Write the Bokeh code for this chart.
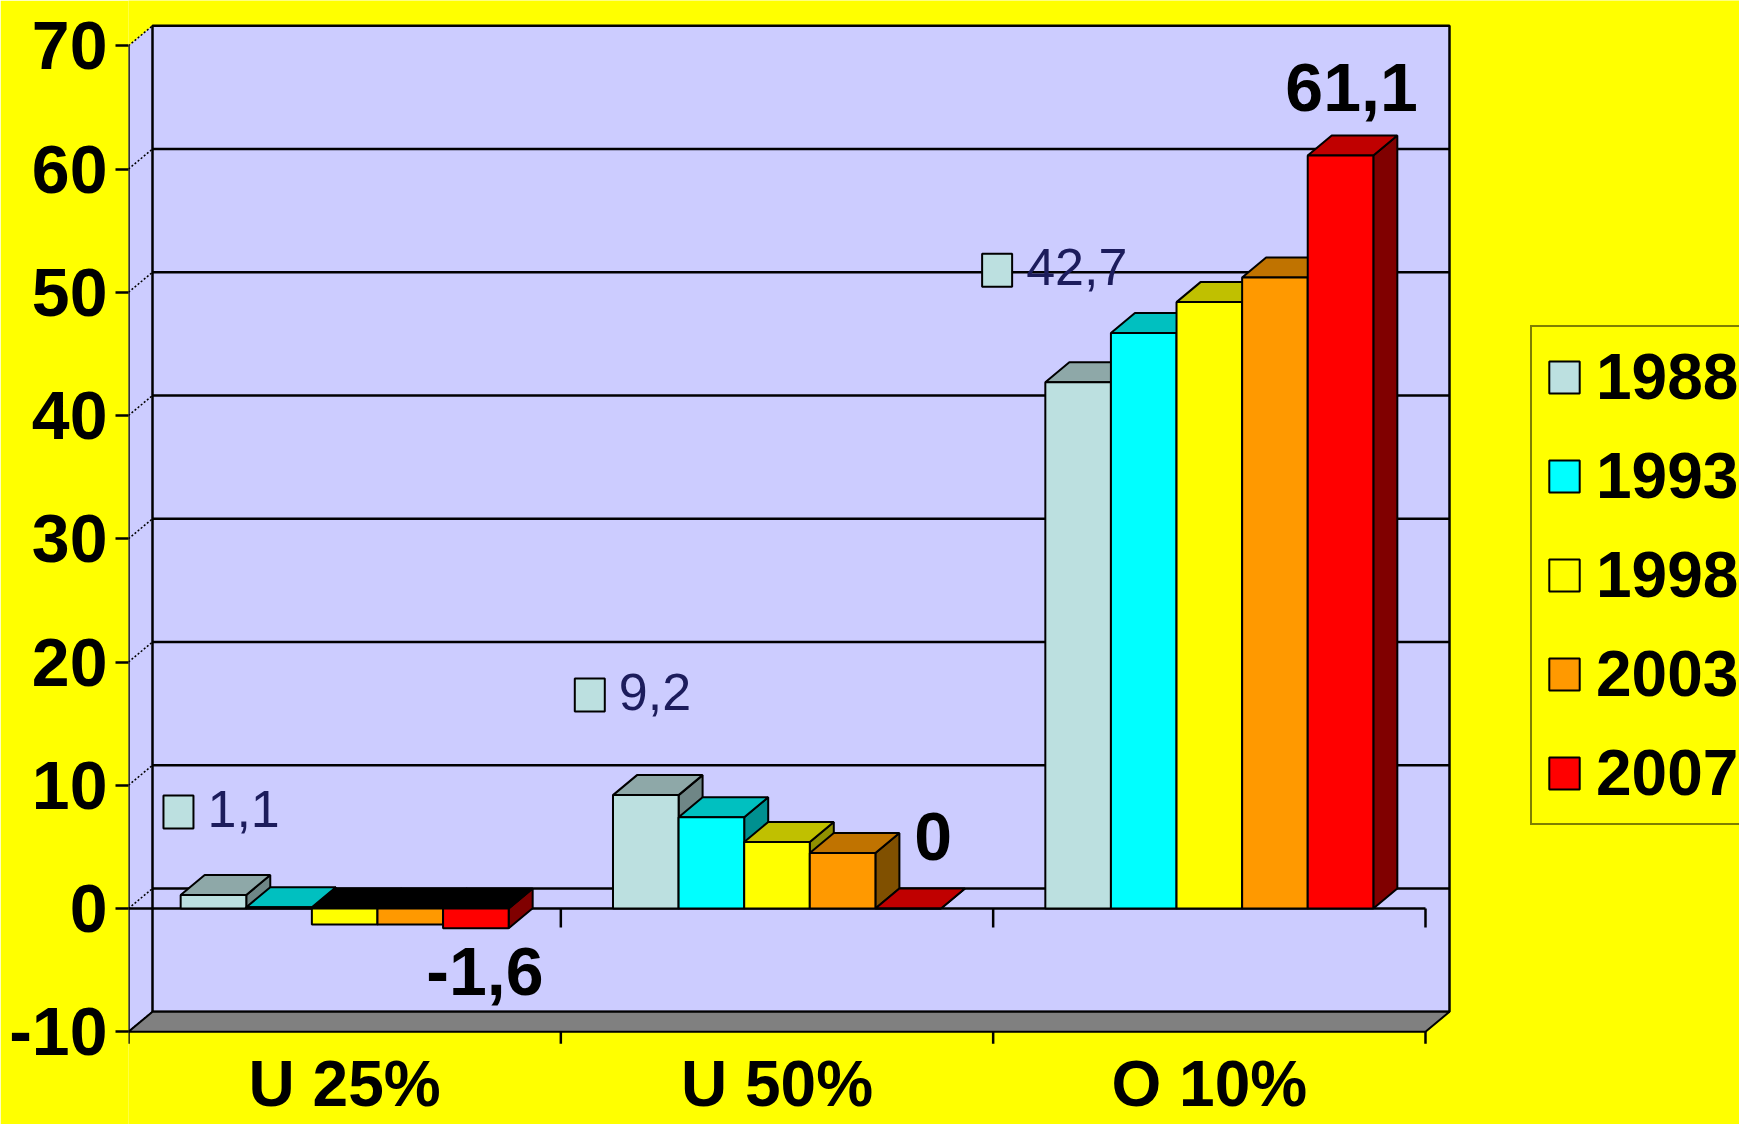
import numpy as np
from bokeh.plotting import figure
from bokeh.models import Range1d, FixedTicker, Legend, LegendItem
from bokeh.core.properties import value
from bokeh.embed import file_html
from bokeh.resources import INLINE

# ---------------- data ----------------
categories = ["U 25%", "U 50%", "O 10%"]
years = ["1988", "1993", "1998", "2003", "2007"]
s1988 = [1.1, 9.2, 42.7]
s1993 = [0.1, 7.4, 46.7]
s1998 = [-1.3, 5.4, 49.2]
s2003 = [-1.3, 4.5, 51.2]
s2007 = [-1.6, 0.0, 61.1]
y_ticks = [-10, 0, 10, 20, 30, 40, 50, 60, 70]
series = [s1988, s1993, s1998, s2003, s2007]

# ---------------- styles ----------------
front_colors = ["#BCE0E0", "#00FFFF", "#FFFF00", "#FF9900", "#FF0000"]
top_colors = ["#8EA8A8", "#00C0C0", "#C0C000", "#C07300", "#C00000"]
side_colors = ["#6F8686", "#009090", "#909000", "#805000", "#800000"]
YELLOW = "#FFFF00"
WALL = "#CCCCFF"
FLOOR = "#808080"
FONT = "Liberation Sans"

W, H = 1739, 1124
PX_U = 432.33             # px per category
PX_V = 12.325             # px per value unit
X0, Y0 = 128, 908         # pixel position of (0, 0) on the front plane
LEFT = X0
BASE_SHIFT = 0.38         # rendered baseline lies this many em below the anchor

DX = 24 / PX_U
DY = 20 / PX_V
BAR_W = 65.6 / PX_U
YMIN, YMAX = -10, 70
NCAT = len(categories)

x_end = (W - LEFT) / PX_U
y_top = Y0 / PX_V
y_bot = (Y0 - H) / PX_V


def vy(py):
    """value coordinate of a pixel row"""
    return (Y0 - py) / PX_V


p = figure(width=W, height=H, output_backend="svg", toolbar_location=None,
           x_range=Range1d(0, x_end), y_range=Range1d(y_bot, y_top),
           x_axis_location=None, y_axis_location="left",
           min_border_left=LEFT, min_border_right=0, min_border_top=0, min_border_bottom=0,
           background_fill_color=YELLOW, border_fill_color=YELLOW,
           outline_line_color=None)
p.xgrid.visible = False
p.ygrid.visible = False

ax = p.yaxis[0]
ax.ticker = FixedTicker(ticks=y_ticks, minor_ticks=[])
ax.major_label_overrides = {t: str(t) for t in y_ticks}
ax.axis_line_color = None
ax.major_tick_out = 13
ax.major_tick_in = 0
ax.minor_tick_out = 0
ax.minor_tick_in = 0
ax.major_tick_line_width = 2.5
ax.major_tick_line_color = "black"
ax.major_label_standoff = 8
ax.major_label_text_font = FONT
ax.major_label_text_font_size = "68px"
ax.major_label_text_font_style = "bold"
ax.major_label_text_color = "black"

# ---------------- walls & floor ----------------
p.patch([0, DX, DX, 0], [YMAX, YMAX + DY, YMIN + DY, YMIN], fill_color=WALL, line_color=None)
p.quad(left=[DX], right=[NCAT + DX], bottom=[YMIN + DY], top=[YMAX + DY],
       fill_color=WALL, line_color="black", line_width=2.5)
grid_vals = [t for t in y_ticks if YMIN < t < YMAX]
p.segment(x0=[DX] * len(grid_vals), y0=[t + DY for t in grid_vals],
          x1=[NCAT + DX] * len(grid_vals), y1=[t + DY for t in grid_vals],
          line_color="black", line_width=2.5)
p.segment(x0=[0] * len(y_ticks), y0=y_ticks, x1=[DX] * len(y_ticks), y1=[t + DY for t in y_ticks],
          line_color="black", line_width=1.5, line_dash="2 2")
p.patch([0, NCAT, NCAT + DX, DX], [YMIN, YMIN, YMIN + DY, YMIN + DY],
        fill_color=FLOOR, line_color="black", line_width=2)

# zero-level category axis line with ticks
p.segment(x0=[0], y0=[0], x1=[NCAT], y1=[0], line_color="black", line_width=2.5)
cat_bounds = list(range(1, NCAT + 1))
p.segment(x0=cat_bounds, y0=[0] * NCAT, x1=cat_bounds, y1=[-19 / PX_V] * NCAT,
          line_color="black", line_width=2.5)

# ---------------- bars ----------------
front_renderers = []
for s, vals in enumerate(series):
    lefts = [i + 0.5 + (s - 2.5) * BAR_W for i in range(NCAT)]
    rights = [l + BAR_W for l in lefts]
    tops = [max(v, 0) for v in vals]
    bots = [min(v, 0) for v in vals]
    side_xs = [[r, r, r + DX, r + DX] for r in rights]
    side_ys = [[b, t, t + DY, b + DY] for b, t in zip(bots, tops)]
    p.patches(side_xs, side_ys, fill_color=side_colors[s], line_color="black", line_width=2)
    top_xs = [[l, r, r + DX, l + DX] for l, r in zip(lefts, rights)]
    top_ys = [[t, t, t + DY, t + DY] for t in tops]
    tcols = [top_colors[s] if v >= 0 else "black" for v in vals]
    p.patches(top_xs, top_ys, fill_color=tcols, line_color="black", line_width=2)
    r = p.quad(left=lefts, right=rights, top=tops, bottom=bots,
               fill_color=front_colors[s], line_color="black", line_width=2)
    front_renderers.append(r)

# front value axis line and floor ticks
p.segment(x0=[0], y0=[YMAX], x1=[0], y1=[YMIN - 12 / PX_V], line_color="black", line_width=2.5)
p.segment(x0=cat_bounds, y0=[YMIN] * NCAT, x1=cat_bounds, y1=[YMIN - 12 / PX_V] * NCAT,
          line_color="black", line_width=2.5)

# ---------------- data labels ----------------
def fmt(v):
    return str(int(v)) if float(v).is_integer() else f"{v:.1f}".replace(".", ",")

FS_SMALL, FS_BIG, FS_CAT, FS_LEG = 52, 68, 64, 64

# 1988 labels with legend key (px offsets from the bar's front-top centre, y downward)
off88 = [(-35, -83), (-56, -100), (-81, -112)]
c88 = [i + 0.5 + (0 - 2) * BAR_W for i in range(NCAT)]
sw_x = [c + dx / PX_U for c, (dx, dy) in zip(c88, off88)]
sw_y = [v - dy / PX_V for v, (dx, dy) in zip(s1988, off88)]
p.rect(x=sw_x, y=sw_y, width=30 / PX_U, height=33 / PX_V,
       fill_color=front_colors[0], line_color="black", line_width=2)
p.text(x=[x + 29 / PX_U for x in sw_x],
       y=[y - (17 - BASE_SHIFT * FS_SMALL) / PX_V for y in sw_y],
       text=[fmt(v) for v in s1988],
       text_font=value(FONT), text_font_size=value(f"{FS_SMALL}px"), text_color="#1c1c5c",
       text_align="left", text_baseline="alphabetic")

# 2007 labels (bold): baseline offsets from the bar end
off07 = [(9, 69), (25, -46), (11, -42)]
c07 = [i + 0.5 + (4 - 2) * BAR_W for i in range(NCAT)]
p.text(x=[c + dx / PX_U for c, (dx, dy) in zip(c07, off07)],
       y=[v - (dy - BASE_SHIFT * FS_BIG) / PX_V for v, (dx, dy) in zip(s2007, off07)],
       text=[fmt(v) for v in s2007],
       text_font=value(FONT), text_font_size=value(f"{FS_BIG}px"), text_font_style="bold",
       text_color="black", text_align="center", text_baseline="alphabetic")

# category labels
p.text(x=[i + 0.5 for i in range(NCAT)], y=[vy(1108 - BASE_SHIFT * FS_CAT)] * NCAT, text=categories,
       text_font=value(FONT), text_font_size=value(f"{FS_CAT}px"), text_font_style="bold",
       text_color="black", text_align="center", text_baseline="alphabetic")

# ---------------- legend ----------------
legend = Legend(items=[LegendItem(label=y, renderers=[r]) for y, r in zip(years, front_renderers)],
                location=(1530 - LEFT, H - 825), orientation="vertical",
                label_text_font=FONT, label_text_font_size=f"{FS_LEG}px", label_text_font_style="bold",
                label_text_color="black", glyph_width=38, glyph_height=40, label_standoff=13,
                padding=13, spacing=25, margin=0,
                border_line_color="black", border_line_width=2.5,
                background_fill_color=YELLOW, background_fill_alpha=1.0)
p.add_layout(legend)

open("out.html", "w").write(file_html(p, INLINE))
